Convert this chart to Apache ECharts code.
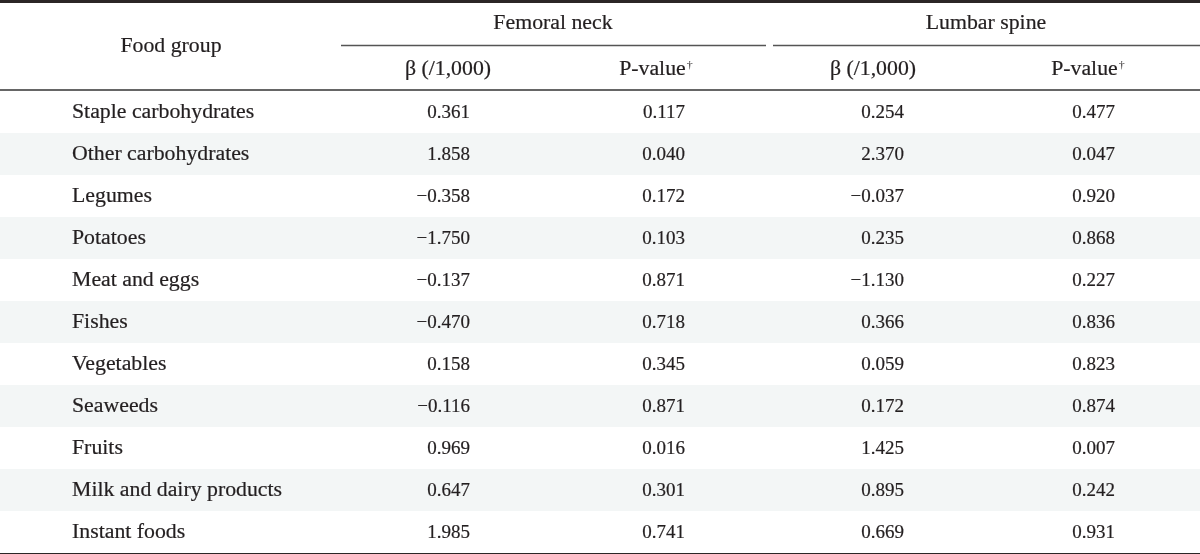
<!DOCTYPE html>
<html><head><meta charset="utf-8">
<script src="https://cdn.jsdelivr.net/npm/echarts@6/dist/echarts.min.js"></script>
<style>html,body{margin:0;padding:0;background:#fff}#c{width:1200px;height:554px}</style>
</head><body><div id="c"></div>
<script>
// ---- data ----
const foodGroups = ['Staple carbohydrates','Other carbohydrates','Legumes','Potatoes','Meat and eggs','Fishes','Vegetables','Seaweeds','Fruits','Milk and dairy products','Instant foods'];
const femoralBeta = [0.361, 1.858, -0.358, -1.750, -0.137, -0.470, 0.158, -0.116, 0.969, 0.647, 1.985];
const femoralP    = [0.117, 0.040, 0.172, 0.103, 0.871, 0.718, 0.345, 0.871, 0.016, 0.301, 0.741];
const lumbarBeta  = [0.254, 2.370, -0.037, 0.235, -1.130, 0.366, 0.059, 0.172, 1.425, 0.895, 0.669];
const lumbarP     = [0.477, 0.047, 0.920, 0.868, 0.227, 0.836, 0.823, 0.874, 0.007, 0.242, 0.931];
const firstHeader = 'Food group';
const groupHeaders = ['Femoral neck', 'Lumbar spine'];
const subHeaders = ['β (/1,000)', 'P-value', 'β (/1,000)', 'P-value'];

// ---- layout / style ----
const FONT = '"Liberation Serif", "Times New Roman", serif';
const TXT = 20, NUM = 19, SX = 1.09;
const INK = '#231f20';
const BOLDEN = 0.2;
const colX = { food: 72, fb: 470, fp: 685, lb: 904, lp: 1115 };

const fmt = v => { const s = Math.abs(v).toFixed(3); return v < 0 ? '\u2212' + s : s; };

function cellSeries(xAnchor, texts, align, size, sx) {
  return {
    type: 'custom',
    coordinateSystem: 'cartesian2d',
    silent: true,
    data: texts.map((t, i) => [xAnchor, i, t]),
    renderItem: function (params, api) {
      const p = api.coord([api.value(0), api.value(1)]);
      const t = texts[params.dataIndex];
      return {
        type: 'text', x: p[0], y: p[1] + 1, scaleX: sx,
        style: { text: t, fill: INK, stroke: INK, lineWidth: BOLDEN, font: size + 'px ' + FONT, align: align, verticalAlign: 'middle' }
      };
    }
  };
}

const chart = echarts.init(document.getElementById('c'), null, { renderer: 'canvas' });

function hText(x, y, text, align) {
  return { type: 'text', x: x, y: y, scaleX: SX, silent: true,
    style: { text: text, fill: INK, stroke: INK, lineWidth: BOLDEN, font: TXT + 'px ' + FONT, align: align || 'center', verticalAlign: 'middle' } };
}
function pHeader(x, y, text) {
  return { type: 'text', x: x, y: y, scaleX: SX, silent: true,
    style: { text: '{a|' + text + '}{s|\u2020}', fill: INK, align: 'center', verticalAlign: 'middle',
      rich: { a: { font: TXT + 'px ' + FONT, fill: INK, stroke: INK, lineWidth: BOLDEN },
              s: { font: '11px ' + FONT, fill: INK, verticalAlign: 'top', padding: [0, 0, 9, 1] } } } };
}
function hLine(x1, x2, y, w, c) {
  return { type: 'line', silent: true, shape: { x1: x1, y1: y, x2: x2, y2: y }, style: { stroke: c, lineWidth: w } };
}

chart.setOption({
  animation: false,
  backgroundColor: '#ffffff',
  grid: { left: 0, right: 0, top: 91, bottom: 1, containLabel: false },
  xAxis: { type: 'value', min: 0, max: 1200, show: false },
  yAxis: {
    type: 'category', data: foodGroups, inverse: true,
    axisLine: { show: false }, axisTick: { show: false }, axisLabel: { show: false },
    splitLine: { show: false },
    splitArea: { show: true, areaStyle: { color: ['#ffffff', '#f3f6f6'] } }
  },
  series: [
    cellSeries(colX.food, foodGroups, 'left', TXT, SX),
    cellSeries(colX.fb, femoralBeta.map(fmt), 'right', NUM, 1),
    cellSeries(colX.fp, femoralP.map(fmt), 'right', NUM, 1),
    cellSeries(colX.lb, lumbarBeta.map(fmt), 'right', NUM, 1),
    cellSeries(colX.lp, lumbarP.map(fmt), 'right', NUM, 1)
  ],
  graphic: [
    hLine(0, 1200, 1.5, 3, '#2b2626'),
    hText(171, 47, firstHeader),
    hText(553, 24, groupHeaders[0]),
    hText(986, 24, groupHeaders[1]),
    hLine(341, 766, 45.5, 1.5, '#555'),
    hLine(773, 1200, 45.5, 1.5, '#555'),
    hText(448, 70, subHeaders[0]),
    pHeader(656, 70, subHeaders[1]),
    hText(873, 70, subHeaders[2]),
    pHeader(1088, 70, subHeaders[3]),
    hLine(0, 1200, 90, 1.5, '#333'),
    hLine(0, 1200, 552.75, 2.5, '#2b2626')
  ]
});
</script></body></html>
